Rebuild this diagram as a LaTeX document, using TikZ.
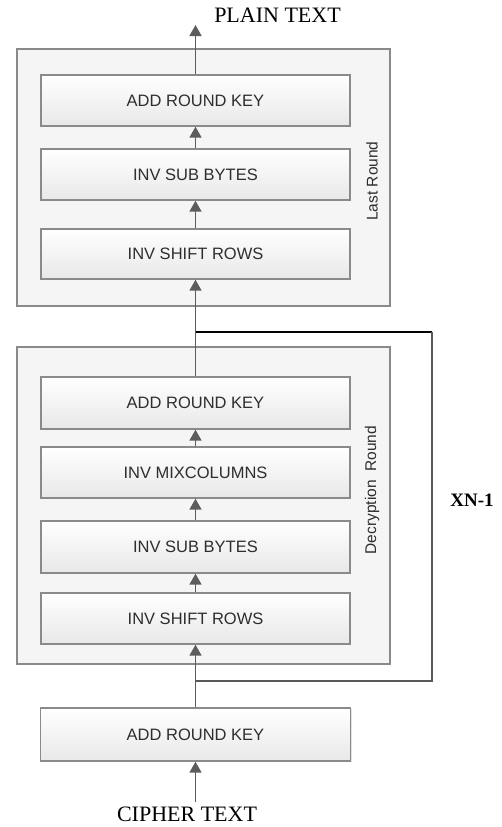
\documentclass[tikz,border=0pt]{standalone}
\usepackage{fontspec}
\newfontfamily\boxfont{Liberation Sans}
\newfontfamily\capfont{Liberation Serif}
\usetikzlibrary{arrows.meta,shadows}
\definecolor{edgegray}{HTML}{8A8A8A}
\definecolor{arrgray}{HTML}{5C5C5C}
\definecolor{txtgray}{HTML}{2E2E2E}
\tikzset{
  stepbox/.style={draw=edgegray, line width=1.4pt, shading=axis, top color=white,
    bottom color=black!9, minimum width=309pt, inner sep=0pt,
    font=\boxfont\fontsize{16.5}{18}\selectfont, text=txtgray,
    drop shadow={shadow xshift=1.2pt, shadow yshift=-1.2pt, opacity=0.22}},
  roundbox/.style={draw=edgegray, line width=1.3pt, fill=black!4,
    minimum width=373pt, inner sep=0pt,
    drop shadow={shadow xshift=1.2pt, shadow yshift=-1.2pt, opacity=0.18}},
  roundlabel/.style={rotate=90, font=\boxfont\fontsize{15.5}{17}\selectfont, text=txtgray},
  flow/.style={draw=arrgray, line width=1.8pt, -{Triangle[length=11pt,width=12pt]}},
  loopline/.style={line width=1.5pt},
  endtext/.style={font=\capfont\fontsize{22}{24}\selectfont, text=black, anchor=base}
}
\begin{document}
\begin{tikzpicture}[x=1pt,y=-1pt]
  \fill[white] (0,0) rectangle (501,827);
  \useasboundingbox (0,0) rectangle (501,827);

  % round containers
  \node[roundbox, minimum height=257pt] (lastround) at (203.5,177.5) {};
  \node[roundbox, minimum height=317pt] (decround) at (203.5,505.5) {};
  \node[roundlabel] (lastlbl) at (372,181) {Last Round};
  \node[roundlabel] (declbl) at (372,490) {Decryption\ \ Round};

  % last round steps
  \node[stepbox, minimum height=51pt] (ark1) at (195.5,100.5) {ADD ROUND KEY};
  \node[stepbox, minimum height=51pt] (isb1) at (195.5,174.5) {INV SUB BYTES};
  \node[stepbox, minimum height=50pt] (isr1) at (195.5,254) {INV SHIFT ROWS};

  % decryption round steps
  \node[stepbox, minimum height=52pt] (ark2) at (195.5,403) {ADD ROUND KEY};
  \node[stepbox, minimum height=51pt] (imc) at (195.5,472.5) {INV MIXCOLUMNS};
  \node[stepbox, minimum height=52pt] (isb2) at (195.5,547) {INV SUB BYTES};
  \node[stepbox, minimum height=51pt] (isr2) at (195.5,618.5) {INV SHIFT ROWS};

  % initial key addition
  \node[stepbox, minimum height=53pt, minimum width=310pt] (ark0) at (195.5,734.5) {ADD ROUND KEY};

  % input / output labels
  \node[endtext] (plain) at (277.5,23) {PLAIN TEXT};
  \node[endtext] (cipher) at (187,821) {CIPHER TEXT};
  \node[font=\capfont\bfseries\fontsize{19}{21}\selectfont, anchor=base] (reps) at (472,506) {XN-1};

  \coordinate (outtip) at (195.5,25);
  \coordinate (intail) at (195.5,802);

  % repetition loop
  \coordinate (ltop) at (195.5,332);
  \coordinate (ltopr) at (432,332);
  \coordinate (lbotr) at (432,681);
  \coordinate (lbot) at (195.5,681);
  \draw[loopline, black] (ltop) -- (ltopr);
  \draw[loopline, draw=black!65, line width=1.8pt] (ltopr) -- (lbotr) -- (lbot);

  % data flow
  \draw[flow] (intail) -- (ark0.south);
  \draw[flow] (ark0.north) -- (isr2.south);
  \draw[flow] (isr2.north) -- (isb2.south);
  \draw[flow] (isb2.north) -- (imc.south);
  \draw[flow] (imc.north) -- (ark2.south);
  \draw[flow] (ark2.north) -- (isr1.south);
  \draw[flow] (isr1.north) -- (isb1.south);
  \draw[flow] (isb1.north) -- (ark1.south);
  \draw[flow] (ark1.north) -- (outtip);
\end{tikzpicture}
\end{document}
